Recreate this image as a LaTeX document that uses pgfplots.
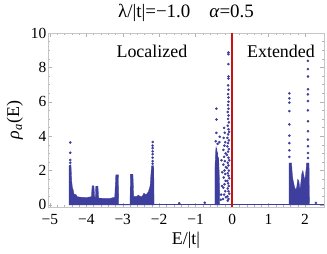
\documentclass[border=0pt]{standalone}
\usepackage{fontspec}
\setmainfont{Liberation Serif}
\usepackage{pgfplots}
\pgfplotsset{compat=1.18}
\definecolor{dotblue}{RGB}{62,62,158}
\definecolor{vred}{RGB}{200,20,20}
\begin{document}
\begin{tikzpicture}
\path[use as bounding box] (-48bp,-47bp) rectangle (279bp,207bp);
\begin{axis}[
  at={(0,0)}, anchor=south west,
  scale only axis, width=276bp, height=174bp,
  xmin=-5.05, xmax=2.52, ymin=-0.12, ymax=10,
  axis line style={draw=gray!45},
  tick style={draw=gray!60, thin},
  major tick length=4bp, minor tick length=2bp,
  tick align=inside,
  xtick={-5,-4,-3,-2,-1,0,1,2},
  xticklabels={−5,−4,−3,−2,−1,0,1,2},
  ytick={0,2,4,6,8,10},
  yticklabels={0,2,4,6,8,10},
  minor x tick num=4, minor y tick num=3,
  ticklabel style={font=\fontsize{15.5}{17}\selectfont},
  yticklabel style={inner sep=1.5bp},
  xticklabel style={inner sep=1bp, yshift=-6bp},
  xlabel={E/|t|}, ylabel={\textit{ρ}\textsubscript{\textit{a}}(E)},
  label style={font=\fontsize{18}{20}\selectfont},
  xlabel style={at={(axis description cs:0.5,-0.19)}, anchor=center},
  ylabel style={at={(axis description cs:-0.12,0.5)}, anchor=center},
  title={λ/|t|=−1.0\quad \textit{α}=0.5},
  every axis title shift=0pt,
  title style={at={(axis description cs:0.5,1)}, anchor=center, yshift=20bp, font=\fontsize{19}{21}\selectfont},
  clip=true,
]
% baseline of density along zero
\addplot[dotblue, line width=1.5pt] coordinates {(-4.46,0.03) (2.52,0.03)};
% left band (dense region)
\addplot[fill=dotblue, draw=dotblue, line width=0.3pt] coordinates {
(-4.47,0) (-4.47,2.3) (-4.42,2.34) (-4.40,1.4) (-4.38,1.0) (-4.36,0.88) (-4.33,0.58)
(-4.31,0.62) (-4.28,0.6) (-4.25,0.48) (-4.15,0.45) (-4.00,0.43) (-3.86,0.48)
(-3.84,1.11) (-3.79,1.11) (-3.77,0.45) (-3.75,0.45) (-3.74,1.09) (-3.68,1.09) (-3.66,0.4)
(-3.50,0.38) (-3.35,0.38) (-3.22,0.45) (-3.19,1.75) (-3.12,1.75) (-3.11,0)
(-2.80,0) (-2.79,1.79) (-2.72,1.79) (-2.70,0.5) (-2.62,0.49) (-2.57,0.58) (-2.53,0.5)
(-2.47,0.49) (-2.42,0.68) (-2.36,0.6) (-2.30,0.75) (-2.25,1.1) (-2.21,2.28) (-2.15,2.28) (-2.14,0)
} \closedcycle;
% middle: left column dense part
\addplot[fill=dotblue, draw=dotblue, line width=0.3pt] coordinates {
(-0.47,0) (-0.47,2.2) (-0.455,3.0) (-0.44,3.4) (-0.43,2.9) (-0.42,3.3) (-0.41,2.6)
(-0.40,3.1) (-0.385,2.4) (-0.37,2.8) (-0.355,1.9) (-0.345,1.2) (-0.34,0)
} \closedcycle;
% right cluster dense part
\addplot[fill=dotblue, draw=dotblue, line width=0.3pt] coordinates {
(1.56,0) (1.56,2.44) (1.63,2.44) (1.65,1.8) (1.67,1.46) (1.71,1.07) (1.74,0.88)
(1.77,1.0) (1.80,1.5) (1.83,1.4) (1.86,0.9) (1.88,1.2) (1.91,1.8) (1.94,2.0) (1.97,1.7)
(1.99,1.4) (2.01,1.7) (2.03,2.1) (2.04,2.44) (2.11,2.44) (2.12,0)
} \closedcycle;
% individual points
\addplot[only marks, mark=*, mark size=1.1pt, dotblue] coordinates {
(-4.44,3.63) (-4.44,3.04) (-4.44,2.61) (-4.44,2.45)
(-2.18,3.66) (-2.18,3.45) (-2.18,3.30) (-2.18,3.12) (-2.18,2.95) (-2.18,2.75) (-2.18,2.55) (-2.18,2.4)
(-0.10,8.87) (-0.10,8.77) (-0.10,8.19) (-0.10,7.47) (-0.10,7.35) (-0.11,6.95) (-0.10,6.7)
(-0.11,6.45) (-0.10,6.25) (-0.10,6.0) (-0.11,5.8) (-0.10,5.6) (-0.12,5.4) (-0.10,5.2)
(-0.11,5.0) (-0.09,4.8) (-0.12,4.6) (-0.10,4.4) (-0.08,4.25) (-0.11,4.1) (-0.13,3.9)
(-0.09,3.75) (-0.11,3.6) (-0.13,3.4) (-0.09,3.25) (-0.11,3.1) (-0.14,2.9) (-0.10,2.75)
(-0.08,2.6) (-0.12,2.45) (-0.10,2.3) (-0.14,2.15) (-0.09,2.0) (-0.12,1.85) (-0.10,1.7)
(-0.08,1.55) (-0.13,1.4) (-0.11,1.25) (-0.09,1.1) (-0.12,0.95) (-0.10,0.8) (-0.08,0.65)
(-0.13,0.5) (-0.10,0.35) (-0.12,0.25)
(-0.22,4.48) (-0.20,4.2) (-0.23,3.9) (-0.19,3.65) (-0.21,3.45) (-0.24,3.2) (-0.18,3.0)
(-0.22,2.8) (-0.20,2.55) (-0.24,2.35) (-0.17,2.2) (-0.21,2.0) (-0.19,1.8) (-0.23,1.6)
(-0.18,1.4) (-0.21,1.2) (-0.24,1.0) (-0.19,0.8) (-0.22,0.6) (-0.17,0.45) (-0.25,0.35)
(-0.28,1.1) (-0.30,0.6) (-0.27,1.9) (-0.29,2.6) (-0.31,0.3)
(-0.43,5.6) (-0.43,4.97) (-0.43,4.19) (-0.34,3.96) (-0.35,3.65) (-0.45,3.7) (-0.40,3.55)
(-0.75,0.13) (-1.45,0.1)
(1.57,6.49) (1.57,6.2) (1.57,5.95) (1.57,5.46) (1.57,4.68) (1.57,4.03) (1.57,3.6)
(1.57,3.18) (1.57,2.79)
(2.08,8.38) (2.08,7.9) (2.08,7.47) (2.08,6.73) (2.08,6.43) (2.08,6.04) (2.08,5.5)
(2.08,4.87) (2.08,4.29) (2.08,3.8) (2.08,3.41) (2.08,3.02) (2.08,2.73)
(1.82,0.3) (1.95,0.25) (2.3,0.12)
};
% red line at E=0
\addplot[vred, line width=1.5pt] coordinates {(0,-0.12) (0,10)};
\node[font=\fontsize{18}{20}\selectfont] at (axis cs:-2.2,8.95) {Localized};
\node[font=\fontsize{18}{20}\selectfont] at (axis cs:1.34,8.95) {Extended};
\end{axis}
\end{tikzpicture}
\end{document}
